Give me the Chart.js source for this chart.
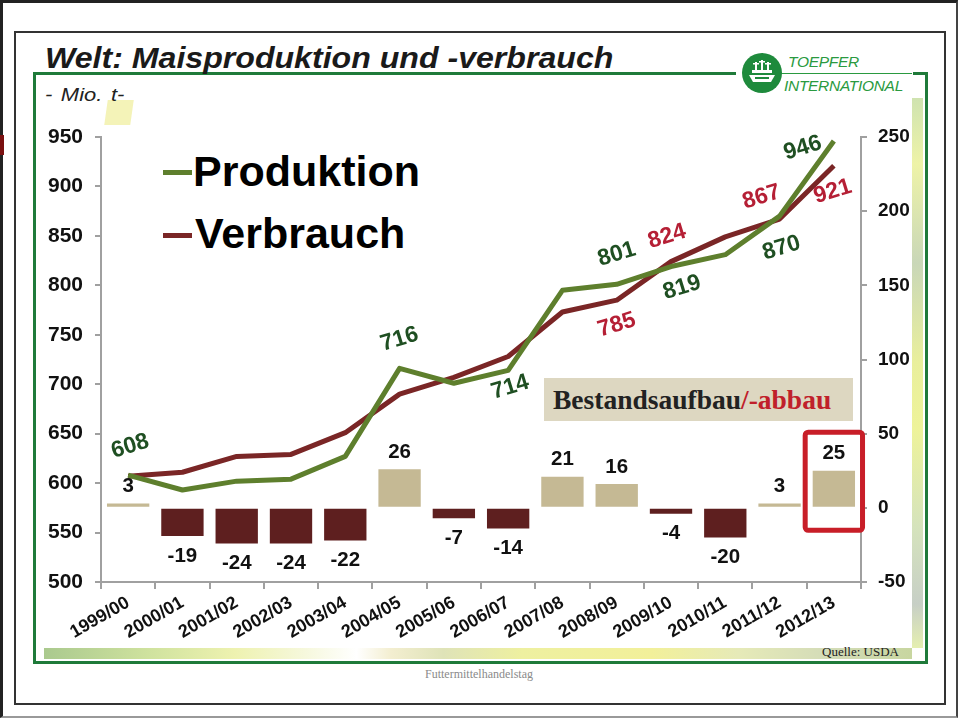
<!DOCTYPE html>
<html><head><meta charset="utf-8">
<script src="https://cdn.jsdelivr.net/npm/chart.js@4.4.1/dist/chart.umd.min.js"></script>
<style>
html,body{margin:0;padding:0;background:#fff;}
#wrap{position:relative;width:958px;height:718px;overflow:hidden;font-family:"Liberation Sans",Arial,sans-serif;background:#fff;}
.abs{position:absolute;}
#outer{left:0;top:0;width:958px;height:718px;box-sizing:border-box;border:3px solid #222;border-bottom:2px solid #999;border-right:2px solid #444;}
#inner{left:14px;top:31px;width:932px;height:674px;box-sizing:border-box;border:2px solid #333;}
#green{left:33px;top:72px;width:895px;height:592px;box-sizing:border-box;border:3px solid #1f7a3a;}
#stripB{left:44px;top:648px;width:868px;height:11px;background:linear-gradient(90deg,#aac98e 0%,#cfe29e 12%,#eef2b0 22%,#f6f8dc 30%,#fff 36%,#f3eed0 40%,#dfe3b8 46%,#eef0a0 55%,#f2f09a 70%,#e6eab8 80%,#d4dcb8 90%,#c8d6a0 100%);}
#stripR{left:912px;top:98px;width:11px;height:550px;background:linear-gradient(180deg,#cfe3b0 0%,#eef3a8 12%,#c9d7b8 30%,#e9ef9c 48%,#eef39a 60%,#d5e3bc 78%,#c7cfc6 92%,#e5efb0 100%);}
#blob{left:106px;top:100px;width:26px;height:25px;background:#f1f0a6;opacity:.8;transform:skewX(-8deg);}
#redmark{left:0;top:135px;width:4px;height:20px;background:#7a1010;}
#logoCover{left:736px;top:69px;width:177px;height:8px;background:#fff;}
#logoLine{left:745px;top:73px;width:167px;height:1px;background:#2a9a40;}
#logoSvg{left:740px;top:51px;}
.logoT{font-style:italic;color:#2a9a40;font-size:15.5px;line-height:1;letter-spacing:-0.3px;}
#title{left:45px;top:44px;font-size:29px;font-weight:bold;font-style:italic;color:#1a1a1a;line-height:1;white-space:nowrap;transform:scaleX(1.107);transform-origin:0 0;}
#unit{left:45px;top:86px;font-size:18px;font-style:italic;color:#222;line-height:1;white-space:nowrap;transform:scaleX(1.22);transform-origin:0 0;word-spacing:2px;}
.legT{font-size:43px;font-weight:bold;color:#000;line-height:1;white-space:nowrap;}
.legL{height:5px;width:29px;}
#bestand{left:544px;top:378px;width:309px;height:43px;background:#ddd7c1;}
#bestandT{left:553px;top:386px;font-family:"Liberation Serif","Times New Roman",serif;font-weight:bold;font-size:27.5px;line-height:1;color:#222;white-space:nowrap;}
#quelle{left:822px;top:645px;font-family:"Liberation Serif",serif;font-size:13px;color:#222;line-height:1;}
#futter{left:0;width:958px;text-align:center;top:668px;font-family:"Liberation Serif",serif;font-size:12px;color:#8a8a8a;line-height:1;}
canvas{position:absolute;left:0;top:0;}
</style></head>
<body>
<div id="wrap">
  <div class="abs" id="outer"></div>
  <div class="abs" id="inner"></div>
  <div class="abs" id="green"></div>
  <div class="abs" id="stripB"></div>
  <div class="abs" id="stripR"></div>
  <div class="abs" id="blob"></div>
  <div class="abs" id="redmark"></div>
  <div class="abs" id="logoCover"></div>
  <div class="abs" id="logoLine"></div>
  <svg class="abs" id="logoSvg" width="44" height="44" viewBox="0 0 44 44">
    <circle cx="22" cy="22" r="20" fill="#1e8a3c"/>
    <path d="M9 24 L35 24 L31 31 L13 31 Z" fill="#fff"/>
    <rect x="12" y="19" width="20" height="3" fill="#fff"/>
    <rect x="15" y="11" width="2" height="8" fill="#fff"/>
    <rect x="21" y="9" width="2" height="10" fill="#fff"/>
    <rect x="27" y="11" width="2" height="8" fill="#fff"/>
    <rect x="13" y="12" width="6" height="1.5" fill="#fff"/>
    <rect x="19" y="10" width="6" height="1.5" fill="#fff"/>
    <rect x="25" y="12" width="6" height="1.5" fill="#fff"/>
    <rect x="15" y="26" width="14" height="2" fill="#1e8a3c"/>
  </svg>
  <div class="abs logoT" style="left:788px;top:54px;">TOEPFER</div>
  <div class="abs logoT" style="left:784px;top:78px;">INTERNATIONAL</div>
  <div class="abs" id="title">Welt: Maisproduktion und -verbrauch</div>
  <div class="abs" id="unit">- Mio. t-</div>
  <div class="abs" id="bestand"></div>
  <div class="abs" id="bestandT">Bestandsaufbau<span style="color:#c0202a">/-abbau</span></div>
  <div class="abs legL" style="left:163px;top:170px;background:#5e7f2d;"></div>
  <div class="abs legT" style="left:193px;top:150px;">Produktion</div>
  <div class="abs legL" style="left:163px;top:233px;background:#7a2626;"></div>
  <div class="abs legT" style="left:195px;top:212px;">Verbrauch</div>
  <div class="abs" id="quelle">Quelle: USDA</div>
  <div class="abs" id="futter">Futtermittelhandelstag</div>
  <canvas id="c" width="958" height="718"></canvas>
</div>
<script>
// ---- data ----
const categories = ['1999/00','2000/01','2001/02','2002/03','2003/04','2004/05','2005/06','2006/07','2007/08','2008/09','2009/10','2010/11','2011/12','2012/13'];
const produktion = [608,593,602,604,627,716,701,714,795,801,819,831,870,946];
const verbrauch  = [607,611,627,629,651,690,707,728,773,785,824,849,867,921];
const bestandsaenderung = [3,-19,-24,-24,-22,26,-7,-14,21,16,-4,-20,3,25];
const leftTickValues  = [500,550,600,650,700,750,800,850,900,950];
const rightTickValues = [-50,0,50,100,150,200,250];

// ---- label layout (offsets in px from the point) ----
const prodLabelLayout = {0:[2,-29],5:[0,-29],7:[2,17],9:[0,-30],10:[11,21],12:[2,32],13:[-31,7]};
const verbLabelLayout = {9:[0,25],10:[-4,-25],12:[-18,-22],13:[-1,26]};

const COL_PROD = '#5e7f2d', COL_VERB = '#7a2626';
const COL_POS = '#c5b994', COL_NEG = '#5e1f1f';

const labelPlugin = {
  id:'labels',
  afterDatasetsDraw(chart){
    const ctx = chart.ctx;
    const barMeta = chart.getDatasetMeta(2);
    ctx.save();
    ctx.font = 'bold 20.5px "Liberation Sans", Arial, sans-serif';
    ctx.fillStyle = '#111';
    ctx.textAlign = 'center'; ctx.textBaseline = 'middle';
    barMeta.data.forEach((el,i)=>{
      const v = bestandsaenderung[i];
      const y = v >= 0 ? el.y - 17 : el.y + 20;
      ctx.fillText(String(v), el.x, y);
    });
    const last = barMeta.data[barMeta.data.length-1];
    const half = last.width/2 + 7.5;
    const top = last.y - 38.5, bottom = last.base + 23.5;
    ctx.strokeStyle = '#c81e28'; ctx.lineWidth = 5; ctx.lineJoin='round';
    ctx.beginPath();
    ctx.roundRect(last.x-half, top, half*2, bottom-top, 3);
    ctx.stroke();
    ctx.restore();

    const drawLineLabels = (dsIndex, values, layout, color) => {
      const meta = chart.getDatasetMeta(dsIndex);
      ctx.save();
      ctx.font = 'bold 23px "Liberation Sans", Arial, sans-serif';
      ctx.fillStyle = color;
      ctx.textAlign='center'; ctx.textBaseline='middle';
      Object.keys(layout).forEach(k=>{
        const i = +k; const el = meta.data[i]; const [dx,dy] = layout[k];
        ctx.save();
        ctx.translate(el.x+dx, el.y+dy);
        ctx.rotate(-17*Math.PI/180);
        ctx.fillText(String(values[i]),0,0);
        ctx.restore();
      });
      ctx.restore();
    };
    drawLineLabels(0, produktion, prodLabelLayout, '#1f4f22');
    drawLineLabels(1, verbrauch, verbLabelLayout, '#b51f35');
  }
};

const axisGrey = '#a0a0a0';
new Chart(document.getElementById('c'), {
  type:'bar',
  data:{
    labels: categories,
    datasets:[
      {type:'line', label:'Produktion', data:produktion, yAxisID:'y', borderColor:COL_PROD, borderWidth:5, pointRadius:0, tension:0, order:0, borderJoinStyle:'round'},
      {type:'line', label:'Verbrauch', data:verbrauch, yAxisID:'y', borderColor:COL_VERB, borderWidth:5, pointRadius:0, tension:0, order:1, borderJoinStyle:'round'},
      {type:'bar', label:'Bestand', data:bestandsaenderung, yAxisID:'y1', backgroundColor:bestandsaenderung.map(v=>v>=0?COL_POS:COL_NEG), categoryPercentage:1, barPercentage:0.78, order:2}
    ]
  },
  options:{
    responsive:false, animation:false, devicePixelRatio:1,
    layout:{padding:{left:41,right:37,top:137,bottom:55}},
    plugins:{legend:{display:false}, tooltip:{enabled:false}},
    scales:{
      x:{
        offset:true,
        grid:{display:true, drawOnChartArea:false, offset:true, tickLength:7, color:axisGrey, lineWidth:2},
        border:{display:true, color:axisGrey, width:2},
        ticks:{color:'#111', font:{family:'"Liberation Sans", Arial, sans-serif', weight:'bold', size:18}, minRotation:30, maxRotation:30, autoSkip:false, padding:3},
        afterFit(s){ s.height = 81; }
      },
      y:{
        position:'left', min:500, max:950,
        afterBuildTicks(s){ s.ticks = leftTickValues.map(v=>({value:v})); },
        grid:{display:true, drawOnChartArea:false, tickLength:6, color:axisGrey, lineWidth:2},
        border:{display:true, color:axisGrey, width:2},
        ticks:{color:'#111', font:{family:'"Liberation Sans", Arial, sans-serif', weight:'bold', size:21}, padding:12},
        afterFit(s){ s.width = 60; }
      },
      y1:{
        position:'right', min:-50, max:250,
        afterBuildTicks(s){ s.ticks = rightTickValues.map(v=>({value:v})); },
        grid:{display:true, drawOnChartArea:false, tickLength:6, color:axisGrey, lineWidth:2},
        border:{display:true, color:axisGrey, width:2},
        ticks:{color:'#111', font:{family:'"Liberation Sans", Arial, sans-serif', weight:'bold', size:19}, padding:11},
        afterFit(s){ s.width = 60; }
      }
    }
  },
  plugins:[labelPlugin]
});
</script>
</body></html>
